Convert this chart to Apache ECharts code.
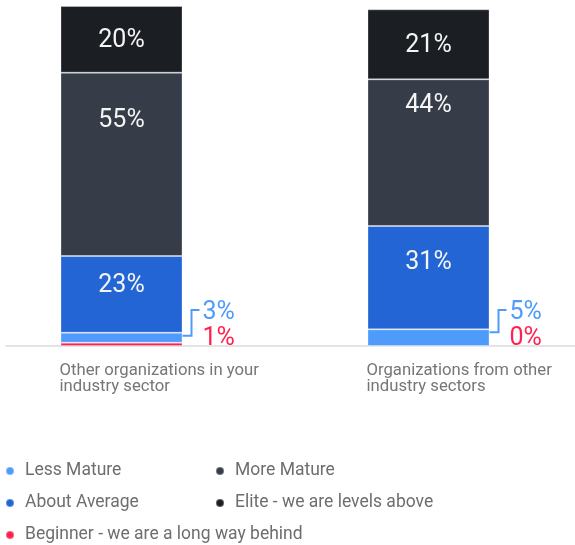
<!DOCTYPE html>
<html>
<head>
<meta charset="utf-8">
<script src="https://cdn.jsdelivr.net/npm/echarts@6/dist/echarts.min.js"></script>
<style>
  html, body { margin: 0; padding: 0; background: #ffffff; }
  #chart { width: 575px; height: 545px; }
</style>
</head>
<body>
<div id="chart"></div>
<script>
// Maturity self-assessment, stacked shares per peer group
const categories = ['Other organizations in your\nindustry sector', 'Organizations from other\nindustry sectors'];
const beginner = [1, 0];
const lessMature = [3, 5];
const aboutAverage = [23, 31];
const moreMature = [55, 44];
const elite = [20, 21];

const seriesNames = {
  beginner: 'Beginner - we are a long way behind',
  less: 'Less Mature',
  about: 'About Average',
  more: 'More Mature',
  elite: 'Elite - we are levels above'
};

const colors = {
  beginner: '#ff2250',
  less: '#4e9bfb',
  about: '#2365d4',
  more: '#363c48',
  elite: '#1b1e23'
};

const FONT = 'Roboto, "Noto Sans", sans-serif';
const BAR_WIDTH = 122;

// vertical drop of the in-bar labels below each segment's top edge
const labelDrop = {
  more: [35, 13],
  about: [16, 23]
};

function insideLabel(key, values) {
  return values.map(function (v, i) {
    const item = { value: v };
    if (labelDrop[key]) {
      item.label = { position: 'insideTop', distance: labelDrop[key][i] };
    }
    return item;
  });
}

function barSeries(key, values, showLabel) {
  return {
    name: seriesNames[key],
    type: 'bar',
    stack: 'total',
    barWidth: BAR_WIDTH,
    xAxisIndex: 0,
    yAxisIndex: 0,
    itemStyle: {
      color: colors[key],
      borderColor: 'rgba(255,255,255,0.28)',
      borderWidth: 1
    },
    label: {
      show: showLabel,
      position: 'inside',
      offset: [0, 1],
      color: '#f5f5f5',
      fontFamily: FONT,
      fontSize: 25,
      formatter: '{c}%'
    },
    emphasis: { disabled: true },
    data: insideLabel(key, values)
  };
}

// bracketed call-out for the two thin bottom segments
function renderCallout(params, api) {
  const i = api.value(0);
  const beg = api.value(1);
  const less = api.value(2);
  const base = api.coord([i, 0]);
  const segTop = api.coord([i, beg + less]);
  const xr = base[0] + BAR_WIDTH / 2;
  const yAnchor = segTop[1] + 3;
  const yBracket = base[1] - 36;
  const yUpper = base[1] - 33;
  const yLower = base[1] - 7;
  return {
    type: 'group',
    children: [
      {
        type: 'polyline',
        shape: { points: [[xr, yAnchor], [xr + 9, yAnchor], [xr + 9, yBracket], [xr + 17, yBracket]] },
        style: { stroke: colors.less, lineWidth: 2, fill: null }
      },
      {
        type: 'text',
        x: xr + 20,
        y: yUpper,
        style: {
          text: less + '%', fill: colors.less, font: '25px ' + FONT,
          align: 'left', verticalAlign: 'middle'
        }
      },
      {
        type: 'text',
        x: xr + 20,
        y: yLower,
        style: {
          text: beg + '%', fill: colors.beginner, font: '25px ' + FONT,
          align: 'left', verticalAlign: 'middle'
        }
      }
    ]
  };
}

const chart = echarts.init(document.getElementById('chart'), null, { renderer: 'canvas' });

const legendCommon = {
  orient: 'vertical',
  top: 462,
  padding: 0,
  itemWidth: 20,
  itemHeight: 8,
  itemGap: 14,
  icon: 'circle',
  selectedMode: false,
  textStyle: { color: '#6e6e6e', fontSize: 17.5, fontFamily: FONT }
};

chart.setOption({
  animation: false,
  backgroundColor: '#ffffff',
  textStyle: { fontFamily: FONT },
  grid: [
    { left: -32, right: -7, top: 6, bottom: 199, outerBoundsMode: 'none', containLabel: false },
    { left: 6, right: 0, top: 6, bottom: 199, outerBoundsMode: 'none', containLabel: false }
  ],
  xAxis: [
    {
      type: 'category',
      gridIndex: 0,
      data: categories,
      axisLine: { show: false },
      axisTick: { show: false },
      axisLabel: {
        align: 'left',
        padding: [0, 0, 0, -62],
        margin: 17,
        color: '#767676',
        fontFamily: FONT,
        fontSize: 16.7,
        lineHeight: 16
      }
    },
    {
      type: 'category',
      gridIndex: 1,
      data: categories,
      axisLine: { show: true, lineStyle: { color: '#e4e4e4', width: 2 } },
      axisTick: { show: false },
      axisLabel: { show: false }
    }
  ],
  yAxis: [
    { type: 'value', gridIndex: 0, min: 0, max: 102, show: false },
    { type: 'value', gridIndex: 1, min: 0, max: 102, show: false }
  ],
  legend: [
    Object.assign({}, legendCommon, {
      left: 5,
      data: [seriesNames.less, seriesNames.about, seriesNames.beginner]
    }),
    Object.assign({}, legendCommon, {
      left: 215,
      data: [seriesNames.more, seriesNames.elite]
    })
  ],
  series: [
    barSeries('beginner', beginner, false),
    barSeries('less', lessMature, false),
    barSeries('about', aboutAverage, true),
    barSeries('more', moreMature, true),
    barSeries('elite', elite, true),
    {
      type: 'custom',
      xAxisIndex: 0,
      yAxisIndex: 0,
      silent: true,
      z: 5,
      renderItem: renderCallout,
      encode: { x: 0, y: 1 },
      data: categories.map(function (c, i) { return [i, beginner[i], lessMature[i]]; })
    }
  ]
});
</script>
</body>
</html>
